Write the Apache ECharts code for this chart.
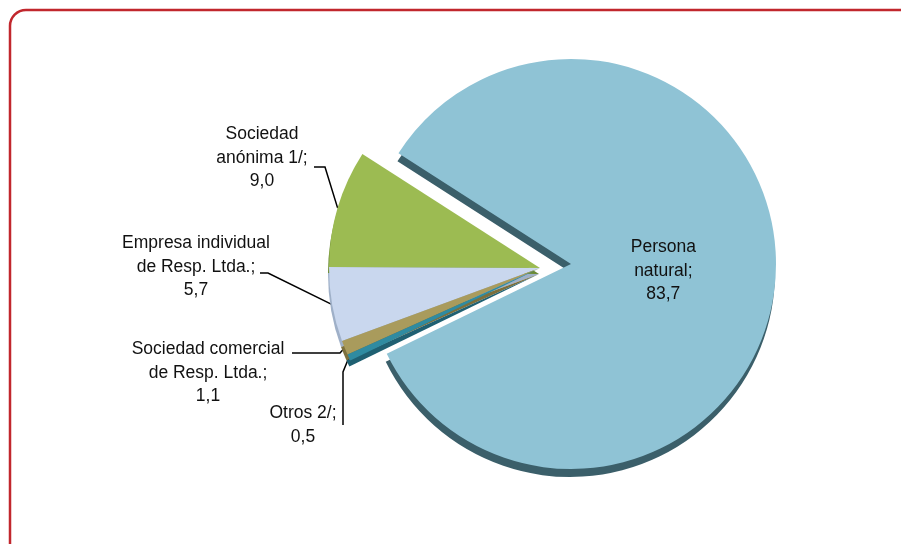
<!DOCTYPE html>
<html lang="es">

<head>
    <meta charset="utf-8" />
    <title></title>
    <script src="https://cdn.jsdelivr.net/npm/echarts@6/dist/echarts.min.js"></script>
</head>

<body style="margin:0">
    <div id="main" style="width:901px;height:544px"></div>
    <script>
        // datos del gráfico
        var categorias = ['Persona\nnatural', 'Sociedad\nanónima 1/', 'Empresa individual\nde Resp. Ltda.',
            'Sociedad comercial\nde Resp. Ltda.', 'Otros 2/'];
        var valores = [83.7, 9.0, 5.7, 1.1, 0.5];

        // colores
        var colores = ['#8fc3d5', '#9cbb52', '#c9d7ee', '#a99b5c', '#2f8ba1'];
        var sombras = ['#3b5f6a', '#6b8a34', '#9fb0c8', '#7c6f3c', '#1f6072'];

        // posiciones de las etiquetas exteriores (centro, codo, final de la linea)
        var etiquetas = {
            1: { x: 262, y: 158, codo: [325, 167], fin: [314, 167] },
            2: { x: 196, y: 267, codo: [268, 273], fin: [260, 273] },
            3: { x: 208, y: 373, codo: [340, 353], fin: [292, 353] },
            4: { x: 303, y: 425, codo: [343, 372], fin: [343, 425] }
        };

        var fuente = "'Liberation Sans', Arial, sans-serif";

        function texto(p) {
            return p.name + ';\n' + p.value.toFixed(1).replace('.', ',');
        }

        function armarDatos(grande) {
            return categorias.map(function (c, i) {
                var visible = grande ? i === 0 : i > 0;
                return {
                    name: c,
                    value: valores[i],
                    itemStyle: visible ? {
                        color: colores[i],
                        shadowColor: sombras[i],
                        shadowBlur: 0,
                        shadowOffsetX: -1,
                        shadowOffsetY: grande ? 8 : 6
                    } : { color: 'rgba(0,0,0,0)' },
                    label: { show: visible },
                    labelLine: { show: visible && !grande }
                };
            });
        }

        var myChart = echarts.init(document.getElementById('main'));

        var option = {
            animation: false,
            backgroundColor: '#ffffff',
            graphic: [{
                type: 'rect',
                shape: { x: 10, y: 10, width: 1000, height: 600, r: 16 },
                style: { fill: 'none', stroke: '#c1272d', lineWidth: 2.5 },
                silent: true
            }],
            series: [{
                // porcion grande
                type: 'pie',
                center: [571, 264],
                radius: 205,
                startAngle: 206,
                clockwise: false,
                silent: true,
                label: {
                    position: 'inside',
                    formatter: texto,
                    fontFamily: fuente,
                    fontSize: 17.5,
                    lineHeight: 23.5,
                    color: '#111111',
                    offset: [-13, 1]
                },
                data: armarDatos(true)
            }, {
                // porciones separadas
                type: 'pie',
                center: [540, 268],
                radius: 211,
                startAngle: 206,
                clockwise: false,
                silent: true,
                avoidLabelOverlap: false,
                label: {
                    position: 'outside',
                    formatter: texto,
                    fontFamily: fuente,
                    fontSize: 17.5,
                    lineHeight: 23.5,
                    color: '#111111',
                    align: 'center'
                },
                labelLine: {
                    lineStyle: { color: '#000000', width: 1.5 }
                },
                labelLayout: function (params) {
                    var e = etiquetas[params.dataIndex];
                    if (!e) return {};
                    var p0 = params.labelLinePoints ? params.labelLinePoints[0] : e.codo;
                    return {
                        x: e.x,
                        y: e.y,
                        align: 'center',
                        verticalAlign: 'middle',
                        labelLinePoints: [p0, e.codo, e.fin]
                    };
                },
                data: armarDatos(false)
            }]
        };
        myChart.setOption(option);
    </script>
</body>

</html>
